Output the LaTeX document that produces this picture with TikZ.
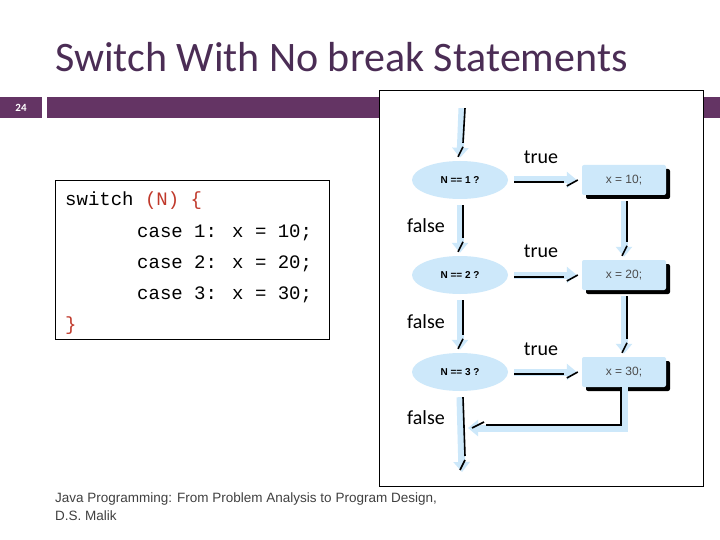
\documentclass[tikz,border=0pt]{standalone}
\usepackage{fontspec}
\setmainfont{Carlito}
\newfontfamily\codefont{Liberation Mono}
\newfontfamily\sansfont{Liberation Sans}
\usetikzlibrary{shapes.geometric,arrows.meta,shadows}
\definecolor{slidepurple}{HTML}{643464}
\definecolor{titlepurple}{HTML}{4B2D55}
\definecolor{flowblue}{HTML}{CDE8FA}
\definecolor{codered}{HTML}{C0392B}
\tikzset{
  test/.style={ellipse,fill=flowblue,minimum width=96,minimum height=38,
    font=\sansfont\bfseries\fontsize{10}{12}\selectfont},
  action/.style={rectangle,rounded corners=2,fill=flowblue,minimum width=84,minimum height=30,
    font=\sansfont\fontsize{12}{14}\selectfont\color{black!70},
    drop shadow={shadow xshift=4pt,shadow yshift=-4pt,fill=black,opacity=1}},
  flow/.style={draw=flowblue,line width=7pt,-{Triangle[width=16pt,length=10pt]}},
  ink/.style={draw=black,line width=1.6pt},
  lbl/.style={font=\fontsize{20}{22}\selectfont},
  code/.style={font=\codefont\fontsize{19}{22}\selectfont,anchor=base west,inner sep=0},
  foot/.style={anchor=base west,inner sep=0,font=\sansfont\fontsize{13.5}{16}\selectfont,text=black!75},
}
\begin{document}
\begin{tikzpicture}[x=1pt,y=-1pt]
  \useasboundingbox (0,0) rectangle (720,540);
  % title and bar
  \node[anchor=base west,inner sep=0,text=titlepurple,font=\fontsize{42}{48}\selectfont] (title) at (55,72) {Switch With No break Statements};
  \fill[slidepurple] (0,97) rectangle (42,118);
  \node[text=white,font=\bfseries\fontsize{11}{12}\selectfont] (page) at (21,107.5) {24};
  \fill[slidepurple] (47,97) rectangle (720,118);
  % code box
  \draw[fill=white] (55,180) rectangle (329,339);
  \node[code] (l1) at (65,206) {switch \textcolor{codered}{(N)} \textcolor{codered}{\{}};
  \node[code] (l2) at (137,237) {case 1: x = 10;};
  \node[code] (l3) at (137,268) {case 2: x = 20;};
  \node[code] (l4) at (137,299) {case 3: x = 30;};
  \node[code] (l5) at (65,330) {\textcolor{codered}{\}}};
  % flowchart frame
  \draw[fill=white] (379,90) rectangle (703,486);
  \node[test] (t1) at (460,180) {N == 1 ?};
  \node[test] (t2) at (460,275) {N == 2 ?};
  \node[test] (t3) at (460,372) {N == 3 ?};
  \node[action] (a1) at (624,180) {x = 10;};
  \node[action] (a2) at (624,275) {x = 20;};
  \node[action] (a3) at (624,372) {x = 30;};
  \coordinate (merge) at (468,428);
  \coordinate (stop) at (462,472);
  \node[inner sep=0,minimum size=0] (top) at (462,102) {};
  % downward arrows
  \foreach \a/\b in {top/t1,t1/t2,t2/t3,a1/a2,a2/a3}{
    \draw[flow] ([yshift=-6]\a.south) -- ([yshift=3]\b.north);
    \draw[ink] ([xshift=3,yshift=-6]\a.south) -- ([xshift=3,yshift=18]\b.north);
    \draw[ink] ([xshift=-2,yshift=4]\b.north) -- ([xshift=3,yshift=14]\b.north);
  }
  % true arrows
  \foreach \a/\b in {t1/a1,t2/a2,t3/a3}{
    \draw[flow] ([xshift=6]\a.east) -- ([xshift=-5]\b.west);
    \draw[ink] ([xshift=6,yshift=-2]\a.east) -- ([xshift=-18,yshift=-2]\b.west);
    \draw[ink] ([xshift=-15,yshift=-6]\b.west) -- ([xshift=-4,yshift=0]\b.west);
  }
  % fall through and exit
  \draw[flow] (a3.south) |- (merge);
  \draw[ink] ([xshift=-3]a3.south) |- ([xshift=18,yshift=3]merge);
  \draw[ink] ([xshift=4,yshift=0]merge) -- ([xshift=16,yshift=6]merge);
  \draw[flow] ([yshift=-6]t3.south) -- (stop);
  \draw[ink] ([xshift=3,yshift=-6]t3.south) -- ([xshift=3,yshift=16]stop);
  \draw[ink] ([xshift=-2,yshift=2]stop) -- ([xshift=3,yshift=12]stop);
  % labels
  \node[lbl] (tr1) at (541,157) {true};
  \node[lbl] (tr2) at (541,251) {true};
  \node[lbl] (tr3) at (541,349) {true};
  \node[lbl] (f1) at (426,226) {false};
  \node[lbl] (f2) at (426,322) {false};
  \node[lbl] (f3) at (426,418) {false};
  % footer
  \node[foot] (foot1) at (55,502) {Java Programming: From Problem Analysis to Program Design,};
  \node[foot] (foot2) at (55,520) {D.S. Malik};
\end{tikzpicture}
\end{document}
